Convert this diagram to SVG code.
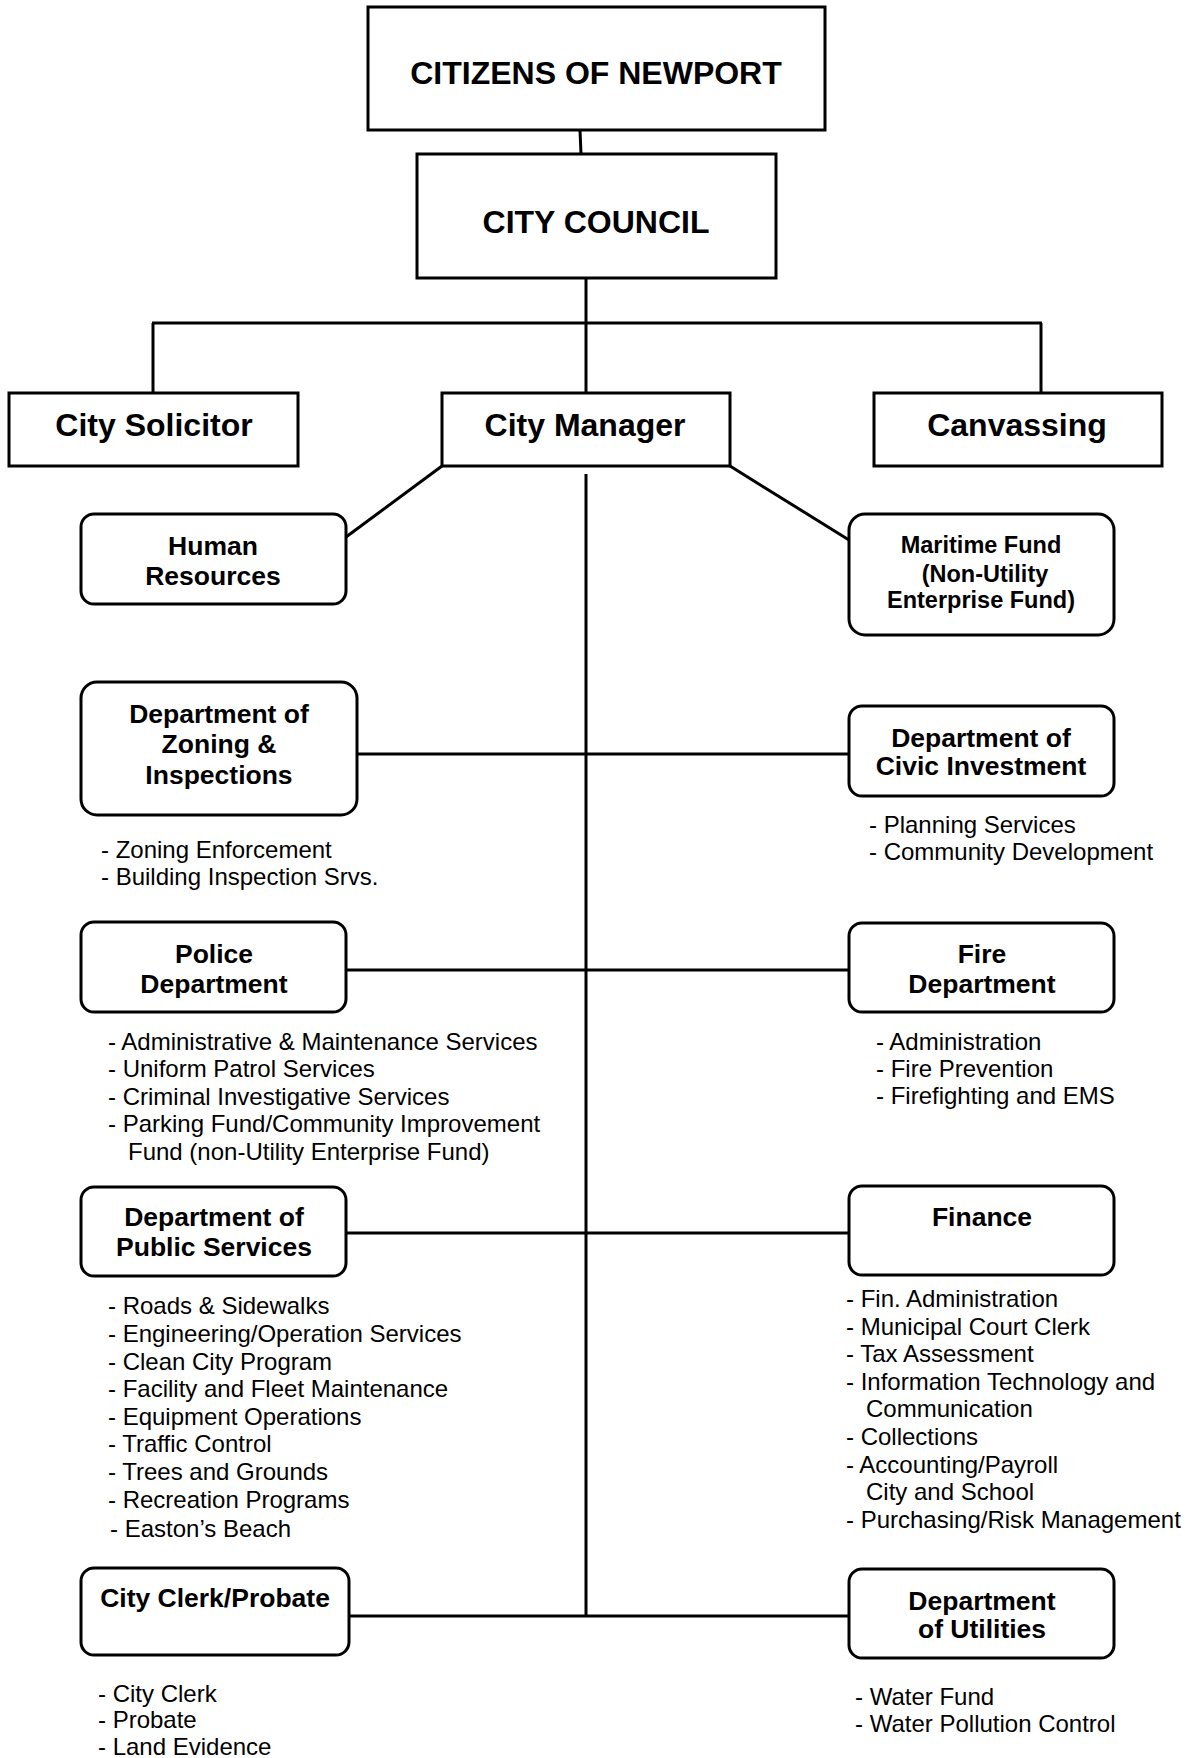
<svg xmlns="http://www.w3.org/2000/svg" width="1185" height="1758" viewBox="0 0 1185 1758">
<style>
  .box{fill:#fff;stroke:#000;stroke-width:3}
  .conn line{stroke:#000;stroke-width:3;stroke-linecap:butt}
  .t{font-family:"Liberation Sans",Arial,sans-serif;font-weight:bold;fill:#000;text-anchor:middle}
  .big{font-size:32px}
  .mid{font-size:26.5px}
  .sm{font-size:23.5px}
  .it{font-family:"Liberation Sans",Arial,sans-serif;font-size:24px;fill:#000}
</style>
<rect width="1185" height="1758" fill="#fff"/>
<g id="connectors" class="conn">
  <line x1="580" y1="130" x2="581" y2="154"/>
  <line x1="586" y1="278" x2="586" y2="393"/>
  <line x1="152" y1="323" x2="1042" y2="323"/>
  <line x1="153" y1="323" x2="153" y2="393"/>
  <line x1="1041" y1="323" x2="1041" y2="393"/>
  <line x1="442" y1="466" x2="346" y2="537"/>
  <line x1="730" y1="466" x2="849" y2="540"/>
  <line x1="586" y1="474" x2="586" y2="1617"/>
  <line x1="357" y1="754" x2="849" y2="754"/>
  <line x1="346" y1="970" x2="849" y2="970"/>
  <line x1="346" y1="1233" x2="849" y2="1233"/>
  <line x1="349" y1="1616" x2="849" y2="1616"/>
</g>
<g id="citizens"><rect class="box" x="368" y="7" width="457" height="123"/><text class="t big" x="596" y="84">CITIZENS OF NEWPORT</text></g>
<g id="council"><rect class="box" x="417" y="154" width="359" height="124"/><text class="t big" x="596" y="233">CITY COUNCIL</text></g>
<g id="solicitor"><rect class="box" x="9" y="393" width="289" height="73"/><text class="t big" x="154" y="436">City Solicitor</text></g>
<g id="manager"><rect class="box" x="442" y="393" width="288" height="73"/><text class="t big" x="585" y="436">City Manager</text></g>
<g id="canvassing"><rect class="box" x="874" y="393" width="288" height="73"/><text class="t big" x="1017" y="436">Canvassing</text></g>
<g id="hr"><rect class="box" x="81" y="514" width="265" height="90" rx="13"/><text class="t mid" x="213" y="555">Human</text><text class="t mid" x="213" y="585">Resources</text></g>
<g id="zoning"><rect class="box" x="81" y="682" width="276" height="133" rx="16"/><text class="t mid" x="219" y="723">Department of</text><text class="t mid" x="219" y="753">Zoning &amp;</text><text class="t mid" x="219" y="784">Inspections</text>
  <text class="it" x="101" y="858">- Zoning Enforcement</text><text class="it" x="101" y="885">- Building Inspection Srvs.</text></g>
<g id="maritime"><rect class="box" x="849" y="514" width="265" height="121" rx="16"/><text class="t sm" x="981" y="553">Maritime Fund</text><text class="t sm" x="985" y="582">(Non-Utility</text><text class="t sm" x="981" y="608">Enterprise Fund)</text></g>
<g id="civic"><rect class="box" x="849" y="706" width="265" height="90" rx="13"/><text class="t mid" x="981" y="747">Department of</text><text class="t mid" x="981" y="775">Civic Investment</text>
  <text class="it" x="869" y="833">- Planning Services</text><text class="it" x="869" y="860">- Community Development</text></g>
<g id="police"><rect class="box" x="81" y="922" width="265" height="90" rx="13"/><text class="t mid" x="214" y="963">Police</text><text class="t mid" x="214" y="993">Department</text>
  <text class="it" x="108" y="1050">- Administrative &amp; Maintenance Services</text>
  <text class="it" x="108" y="1077">- Uniform Patrol Services</text>
  <text class="it" x="108" y="1105">- Criminal Investigative Services</text>
  <text class="it" x="108" y="1132">- Parking Fund/Community Improvement</text>
  <text class="it" x="128" y="1160">Fund (non-Utility Enterprise Fund)</text></g>
<g id="fire"><rect class="box" x="849" y="923" width="265" height="89" rx="13"/><text class="t mid" x="982" y="963">Fire</text><text class="t mid" x="982" y="993">Department</text>
  <text class="it" x="876" y="1050">- Administration</text><text class="it" x="876" y="1077">- Fire Prevention</text><text class="it" x="876" y="1104">- Firefighting and EMS</text></g>
<g id="public"><rect class="box" x="81" y="1187" width="265" height="89" rx="13"/><text class="t mid" x="214" y="1226">Department of</text><text class="t mid" x="214" y="1256">Public Services</text>
  <text class="it" x="108" y="1314">- Roads &amp; Sidewalks</text>
  <text class="it" x="108" y="1342">- Engineering/Operation Services</text>
  <text class="it" x="108" y="1370">- Clean City Program</text>
  <text class="it" x="108" y="1397">- Facility and Fleet Maintenance</text>
  <text class="it" x="108" y="1425">- Equipment Operations</text>
  <text class="it" x="108" y="1452">- Traffic Control</text>
  <text class="it" x="108" y="1480">- Trees and Grounds</text>
  <text class="it" x="108" y="1508">- Recreation Programs</text>
  <text class="it" x="110" y="1537">- Easton’s Beach</text></g>
<g id="finance"><rect class="box" x="849" y="1186" width="265" height="89" rx="13"/><text class="t mid" x="982" y="1226">Finance</text>
  <text class="it" x="846" y="1307">- Fin. Administration</text>
  <text class="it" x="846" y="1335">- Municipal Court Clerk</text>
  <text class="it" x="846" y="1362">- Tax Assessment</text>
  <text class="it" x="846" y="1390">- Information Technology and</text>
  <text class="it" x="866" y="1417">Communication</text>
  <text class="it" x="846" y="1445">- Collections</text>
  <text class="it" x="846" y="1473">- Accounting/Payroll</text>
  <text class="it" x="866" y="1500">City and School</text>
  <text class="it" x="846" y="1528">- Purchasing/Risk Management</text></g>
<g id="clerk"><rect class="box" x="81" y="1568" width="268" height="87" rx="13"/><text class="t mid" x="215" y="1607">City Clerk/Probate</text>
  <text class="it" x="98" y="1702">- City Clerk</text><text class="it" x="98" y="1728">- Probate</text><text class="it" x="98" y="1755">- Land Evidence</text></g>
<g id="utilities"><rect class="box" x="849" y="1569" width="265" height="89" rx="13"/><text class="t mid" x="982" y="1610">Department</text><text class="t mid" x="982" y="1638">of Utilities</text>
  <text class="it" x="855" y="1705">- Water Fund</text><text class="it" x="855" y="1732">- Water Pollution Control</text></g>
</svg>
